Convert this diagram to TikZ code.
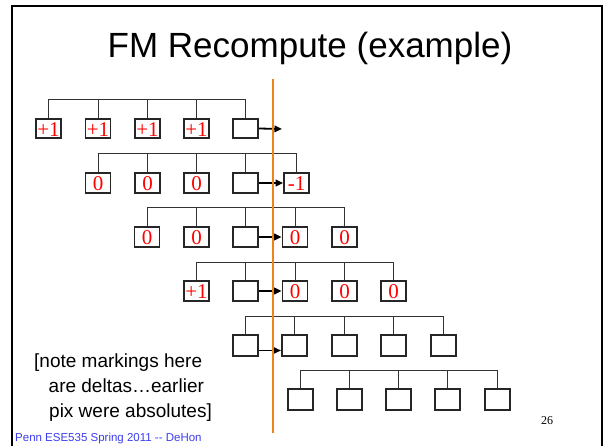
\documentclass[tikz,border=0pt]{standalone}
\usepackage{fontspec}
\setmainfont{Liberation Sans}
\newfontfamily\serf{Liberation Serif}
\usetikzlibrary{arrows.meta}
\definecolor{orng}{RGB}{240,130,30}
\definecolor{footblue}{RGB}{60,60,240}
\begin{document}
\begin{tikzpicture}[x=1pt,y=-1pt,
  box/.style={draw=black!85, line width=1.7pt, minimum width=25pt, minimum height=19.5pt,
    inner sep=0pt, text=red, font=\serf\fontsize{21}{21}\selectfont, text height=15.5pt, text depth=0pt},
  bigbox/.style={box, minimum height=21pt, line width=2pt},
  bus/.style={draw=black!80, line width=0.9pt},
  arr/.style={line width=1.8pt, -{Triangle[length=7.5pt,width=6.5pt]}},
  frm/.style={line width=2pt, draw=black},
  cut/.style={line width=2pt, draw=orng}]
\useasboundingbox (0,0) rectangle (604,446);
% frame
\coordinate (f1) at (12,446); \coordinate (f2) at (12,6);
\coordinate (f3) at (602,6); \coordinate (f4) at (602,446);
\draw[frm] (f1) -- (f2) -- (f3) -- (f4);
% title
\node[anchor=base, font=\fontsize{35}{35}\selectfont, inner sep=0pt] (title) at (310,57.5) {FM Recompute (example)};
% row 1
\node[box] (b11) at (48.5,128.5) {+1};
\node[box] (b12) at (98,128.5) {+1};
\node[box] (b13) at (147.5,128.5) {+1};
\node[box] (b14) at (196.5,128.5) {+1};
\node[box] (b15) at (245.5,128.5) {};
% row 2
\node[box] (b21) at (98,183) {0};
\node[box] (b22) at (147.5,183) {0};
\node[box] (b23) at (196.5,183) {0};
\node[box] (b24) at (245.5,183) {};
\node[box] (b25) at (296.5,183) {-1};
% row 3
\node[box] (b31) at (147,237) {0};
\node[box] (b32) at (196.5,237) {0};
\node[box] (b33) at (245.5,237) {};
\node[box] (b34) at (295,237) {0};
\node[box] (b35) at (344.5,237) {0};
% row 4
\node[box] (b41) at (196.5,291) {+1};
\node[box] (b42) at (245.5,291) {};
\node[box] (b43) at (295,291) {0};
\node[box] (b44) at (344.5,291) {0};
\node[box] (b45) at (393.5,291) {0};
% row 5
\node[bigbox] (b51) at (245.5,345.5) {};
\node[bigbox] (b52) at (294.5,345.5) {};
\node[bigbox] (b53) at (344.5,345.5) {};
\node[bigbox] (b54) at (393.5,345.5) {};
\node[bigbox] (b55) at (443,345.5) {};
% row 6
\node[bigbox] (b61) at (300,399.5) {};
\node[bigbox] (b62) at (349.5,399.5) {};
\node[bigbox] (b63) at (398.5,399.5) {};
\node[bigbox] (b64) at (447.5,399.5) {};
\node[bigbox] (b65) at (497.5,399.5) {};
% buses
\foreach \r/\Y in {1/99,2/153,3/207,4/262,5/316,6/370} {
  \coordinate (y\r) at (0,\Y);
  \draw[bus] (b\r1.north) -- (b\r1.north |- y\r) -- (b\r5.north |- y\r) -- (b\r5.north);
  \foreach \i in {2,3,4} \draw[bus] (b\r\i.north) -- (b\r\i.north |- y\r);
}
% arrows
\coordinate (e1) at (282,129);
\draw[arr] (b15.east) -- (e1);
\draw[arr] (b24.east) -- (b25.west);
\draw[arr] (b33.east) -- (b34.west);
\draw[arr] (b42.east) -- (b43.west);
\draw[arr] ([yshift=-5pt]b51.east) -- ([yshift=-5pt]b52.west);
% cut line
\coordinate (ot) at (273,79); \coordinate (ob) at (273,433);
\draw[cut] (ot) -- (ob);
% note text
\node[anchor=base west, align=left, inner sep=0pt, font=\fontsize{19}{25}\selectfont] (note) at (34,417)
  {[note markings here\\\hspace*{14.5pt}are deltas…earlier\\\hspace*{15pt}pix were absolutes]};
% footer
\node[anchor=base west, inner sep=0pt, text=footblue, font=\fontsize{11.5}{12}\selectfont] (foot) at (15,441) {Penn ESE535 Spring 2011 -{}- DeHon};
\node[anchor=base, inner sep=0pt, font=\serf\fontsize{12}{12}\selectfont] (pg) at (547,424) {26};
\end{tikzpicture}
\end{document}
